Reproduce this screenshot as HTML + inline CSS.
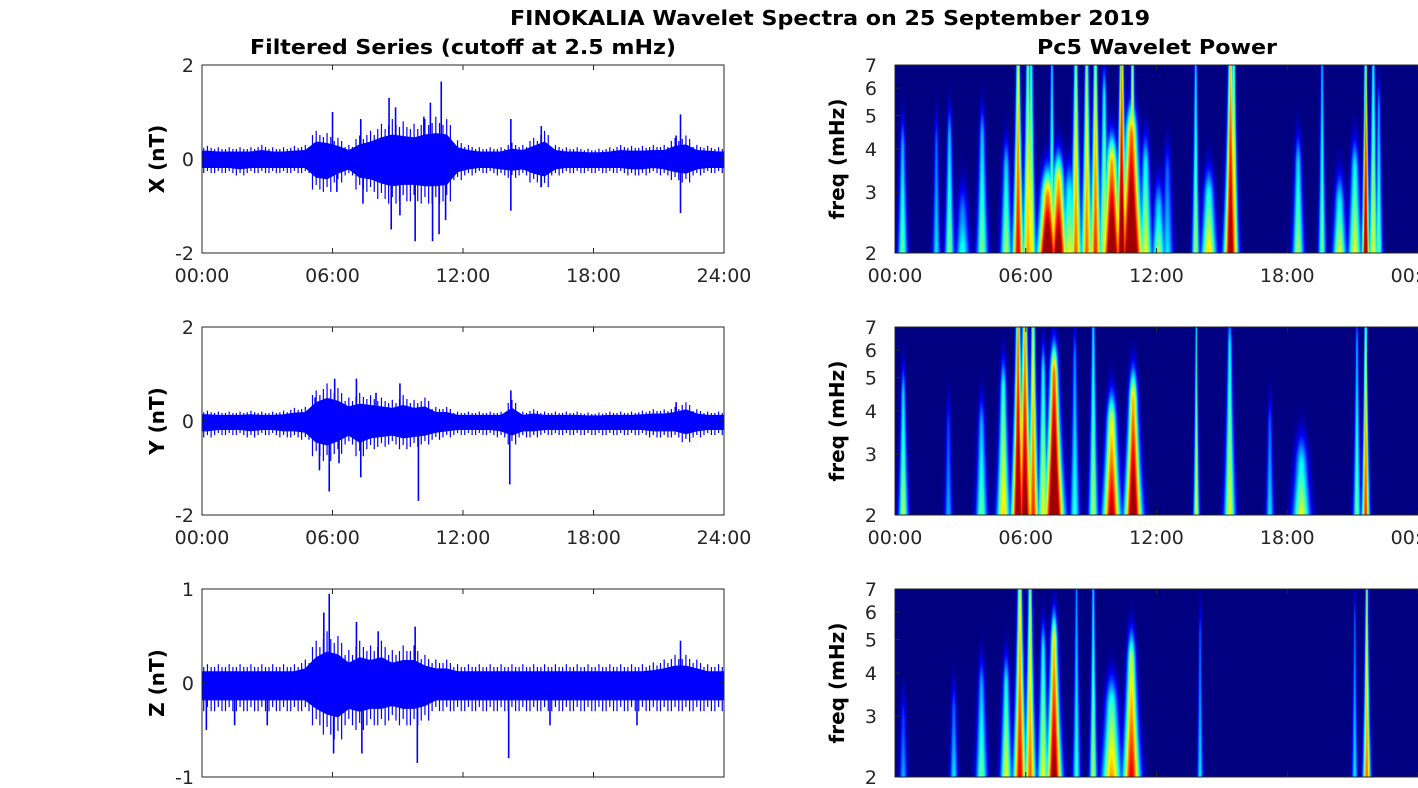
<!DOCTYPE html>
<html><head><meta charset="utf-8"><style>
html,body{margin:0;padding:0;background:#fff;}
#wrap{position:relative;width:1418px;height:788px;overflow:hidden;font-family:"DejaVu Sans","Liberation Sans",sans-serif;}
canvas{position:absolute;}
svg{position:absolute;left:0;top:0;}
</style></head><body>
<div id="wrap">
<canvas id="c0" width="523" height="188" style="left:895px;top:65px"></canvas>
<canvas id="c1" width="523" height="188" style="left:895px;top:327px"></canvas>
<canvas id="c2" width="523" height="188" style="left:895px;top:589px"></canvas>
<svg id="svg" width="1418" height="788" xmlns="http://www.w3.org/2000/svg">
<text x="830" y="25" text-anchor="middle" font-weight="bold" font-size="20" textLength="640" lengthAdjust="spacingAndGlyphs">FINOKALIA Wavelet Spectra on 25 September 2019</text>
<text x="463" y="54" text-anchor="middle" font-weight="bold" font-size="20" textLength="426" lengthAdjust="spacingAndGlyphs">Filtered Series (cutoff at 2.5 mHz)</text>
<text x="1157" y="54" text-anchor="middle" font-weight="bold" font-size="20" textLength="240" lengthAdjust="spacingAndGlyphs">Pc5 Wavelet Power</text>
</svg>
</div>
<script>
// ---- time series data (48 bins of 30 min, envelope of dense signal) ----
const binHours = Array.from({length:48},(_,i)=>i*0.5+0.25);
const xUpper=[.28,.25,.25,.25,.25,.3,.25,.25,.28,.3,.6,.55,.45,.3,.5,.6,.75,.85,.8,.75,.85,.9,.85,.4,.3,.25,.25,.25,.35,.3,.45,.6,.3,.25,.25,.22,.22,.25,.3,.28,.28,.3,.3,.45,.5,.3,.28,.25];
const xLower=[-.3,-.3,-.3,-.35,-.3,-.3,-.3,-.3,-.3,-.3,-.65,-.7,-.5,-.35,-.65,-.7,-.85,-.95,-.9,-.9,-.95,-.95,-.9,-.45,-.35,-.3,-.3,-.35,-.4,-.35,-.5,-.6,-.35,-.3,-.3,-.3,-.3,-.3,-.3,-.35,-.35,-.3,-.35,-.45,-.5,-.35,-.3,-.3];
const xSpikeT=[6.0,6.2,7.3,7.4,8.6,8.7,8.9,9.1,9.8,10.2,10.5,10.6,11.0,11.2,10.9,14.2,14.2,15.6,15.6,22.0,22.0,21.8];
const xSpikeV=[1.0,-0.7,0.85,-0.95,1.3,-1.5,1.1,-1.2,-1.75,0.9,1.2,-1.75,1.65,-1.3,-1.6,0.85,-1.1,0.7,-0.6,0.95,-1.15,0.5];
const yUpper=[.22,.2,.2,.2,.22,.2,.2,.22,.28,.3,.65,.8,.7,.5,.6,.55,.5,.45,.55,.45,.5,.3,.3,.2,.2,.2,.2,.2,.45,.2,.25,.2,.2,.2,.2,.18,.18,.2,.2,.2,.22,.25,.25,.3,.4,.25,.2,.2];
const yLower=[-.35,-.3,-.3,-.3,-.35,-.3,-.3,-.35,-.35,-.4,-.75,-.85,-.7,-.5,-.75,-.6,-.55,-.5,-.6,-.55,-.5,-.4,-.35,-.3,-.3,-.3,-.3,-.35,-.5,-.35,-.35,-.3,-.3,-.3,-.3,-.3,-.3,-.3,-.3,-.3,-.3,-.35,-.35,-.35,-.45,-.35,-.3,-.3];
const ySpikeT=[5.4,5.85,6.3,6.1,7.3,7.1,8.0,9.1,9.95,14.15,14.2,21.8,5.2];
const ySpikeV=[-1.05,-1.5,-0.9,0.9,-1.2,0.9,0.6,0.8,-1.7,-1.35,0.65,0.4,0.5];
const zUpper=[.2,.2,.2,.2,.2,.2,.2,.2,.2,.25,.45,.55,.5,.35,.45,.4,.45,.35,.4,.4,.3,.25,.25,.2,.2,.2,.2,.2,.2,.2,.2,.2,.2,.2,.2,.2,.2,.2,.2,.2,.2,.22,.25,.3,.3,.25,.2,.2];
const zLower=[-.3,-.3,-.3,-.3,-.3,-.3,-.3,-.3,-.3,-.3,-.45,-.55,-.6,-.45,-.5,-.45,-.45,-.4,-.45,-.45,-.4,-.3,-.3,-.3,-.3,-.3,-.3,-.3,-.3,-.3,-.3,-.3,-.3,-.3,-.3,-.3,-.3,-.3,-.3,-.3,-.3,-.3,-.3,-.3,-.3,-.3,-.3,-.3];
const zSpikeT=[5.6,5.85,6.05,7.1,7.35,8.1,9.8,9.9,14.1,22.0,0.2,1.5,3.0,16.0,20.0];
const zSpikeV=[.75,.95,-.75,.65,-.75,.55,.6,-.85,-.8,.45,-.5,-.45,-.45,-.45,-.45];
const tsRanges=[2,2,1];
const tsLabels=['X (nT)','Y (nT)','Z (nT)'];
// ---- wavelet events: time (h), top freq (mHz), peak power (0..1), width (h) ----
const xEvT=[0.35,1.9,2.5,3.1,4.0,5.1,5.65,6.1,6.25,7.0,7.5,7.2,8.0,8.3,8.8,9.2,9.6,9.95,10.4,10.85,10.9,11.5,12.1,12.5,13.8,14.4,15.4,15.55,18.5,19.6,20.4,21.1,21.6,21.95,22.2];
const xEvF=[3.9,4.0,4.2,2.5,4.2,3.4,7.5,7.5,7.5,2.8,3.1,7.5,2.9,7.5,7.5,7.5,5.5,3.5,7.5,4.3,7.5,3.5,2.6,3.3,7.5,2.8,7.5,7.5,3.5,7.5,2.7,3.4,7.5,7.5,5.0];
const xEvP=[.4,.3,.42,.35,.42,.45,.75,.6,.55,1.0,.9,.45,.5,.65,.65,.7,.5,.95,.9,1.0,.65,.5,.45,.3,.45,.55,.85,.6,.45,.4,.5,.5,.85,.5,.4];
const xEvW=[.25,.2,.25,.35,.3,.3,.3,.3,.25,.5,.45,.2,.45,.3,.3,.3,.3,.5,.3,.6,.25,.35,.35,.3,.2,.4,.35,.25,.3,.2,.35,.35,.2,.25,.2];
const yEvT=[0.38,2.45,3.97,4.97,5.65,5.96,6.34,6.8,7.3,8.25,9.1,9.94,10.93,13.83,15.36,17.2,18.65,21.2,21.6];
const yEvF=[4.3,3.5,3.5,4.5,7.5,7.5,7.5,5.0,5.0,5.5,7.5,3.6,4.2,7.5,6.0,3.5,2.7,6.0,7.5];
const yEvP=[.45,.25,.4,.55,.9,.85,.7,.5,1.0,.35,.45,.8,.9,.5,.5,.3,.5,.4,.7];
const yEvW=[.25,.2,.3,.35,.35,.4,.3,.3,.5,.25,.25,.45,.45,.15,.3,.2,.45,.2,.2];
const zEvT=[0.38,2.7,3.97,5.1,5.73,6.2,6.8,7.3,8.33,9.1,9.94,10.85,14.0,21.1,21.65];
const zEvF=[2.8,3.0,3.5,3.6,7.5,7.5,4.5,4.8,7.5,7.5,3.1,4.2,5.0,5.5,7.5];
const zEvP=[.25,.3,.4,.5,.75,.65,.5,.85,.35,.45,.6,.75,.3,.3,.65];
const zEvW=[.2,.2,.3,.3,.35,.3,.3,.4,.2,.2,.5,.45,.15,.15,.2];
const freqTicks=[2,3,4,5,6,7];
const timeTicks=[0,6,12,18,24];
const timeTickLabels=['00:00','06:00','12:00','18:00','24:00'];

const NS='http://www.w3.org/2000/svg';
const svg=document.getElementById('svg');
const LX0=202,LX1=724,RX0=895,RX1=1418,ROWH=188;
const rowTops=[65,327,589];
const CORE=0.6;
function xL(t){return LX0+t/24*(LX1-LX0);}
function xR(t){return RX0+t/24*(RX1-RX0);}
function yTS(v,r){const R=tsRanges[r];return rowTops[r]+(R-v)/(2*R)*ROWH;}
function yF(f,r){return rowTops[r]+ROWH-ROWH*Math.log(f/2)/Math.log(3.5);}
function mk(tag,attrs,txt){const e=document.createElementNS(NS,tag);for(const k in attrs)e.setAttribute(k,attrs[k]);if(txt!==undefined)e.textContent=txt;svg.appendChild(e);return e;}

const uppers=[xUpper,yUpper,zUpper],lowers=[xLower,yLower,zLower];
const spT=[xSpikeT,ySpikeT,zSpikeT],spV=[xSpikeV,ySpikeV,zSpikeV];
const names=['x','y','z'];
for(let r=0;r<3;r++){
  const top=rowTops[r],R=tsRanges[r];
  const U=uppers[r],Lo=lowers[r];
  let pts=[[xL(0),yTS(U[0]*CORE,r)]];
  binHours.forEach((t,i)=>pts.push([xL(t),yTS(U[i]*CORE,r)]));
  pts.push([xL(24),yTS(U[47]*CORE,r)]);
  pts.push([xL(24),yTS(Lo[47]*CORE,r)]);
  for(let i=47;i>=0;i--)pts.push([xL(binHours[i]),yTS(Lo[i]*CORE,r)]);
  pts.push([xL(0),yTS(Lo[0]*CORE,r)]);
  const band=mk('polygon',{points:pts.map(p=>p.join(',')).join(' '),fill:'#0000ff',stroke:'#0000ff','stroke-width':1});
  
  
  binHours.forEach((t,i)=>{
    [-0.17,0,0.17].forEach(dt=>{
      const w=mk('line',{x1:xL(t+dt),x2:xL(t+dt),y1:yTS(U[i]*(dt===0?1:0.85),r),y2:yTS(Lo[i]*(dt===0?0.85:1),r),stroke:'#0000ff','stroke-width':1.2});
      
      
    });
  });
  spT[r].forEach((t,i)=>{
    const l=mk('line',{x1:xL(t),x2:xL(t),y1:yTS(0,r),y2:yTS(spV[r][i],r),stroke:'#0000ff','stroke-width':1.6});
    
    
  });
  const box=mk('rect',{x:LX0,y:top,width:LX1-LX0,height:ROWH,fill:'none',stroke:'#262626','stroke-width':1});
  
  
  [R,0,-R].forEach(v=>{
    mk('line',{x1:LX0,x2:LX0+5,y1:yTS(v,r),y2:yTS(v,r),stroke:'#262626'});
    mk('line',{x1:LX1,x2:LX1-5,y1:yTS(v,r),y2:yTS(v,r),stroke:'#262626'});
    const tl=mk('text',{x:194,y:yTS(v,r)+7,'text-anchor':'end','font-size':19,fill:'#262626'},String(v));
    
    
  });
  timeTicks.forEach((t,i)=>{
    mk('line',{x1:xL(t),x2:xL(t),y1:top,y2:top+5,stroke:'#262626'});
    mk('line',{x1:xL(t),x2:xL(t),y1:top+ROWH,y2:top+ROWH-5,stroke:'#262626'});
    if(r<2){
      const tl=mk('text',{x:xL(t),y:top+ROWH+29,'text-anchor':'middle','font-size':19,fill:'#262626'},timeTickLabels[i]);
      
      
      const tr=mk('text',{x:xR(t),y:top+ROWH+29,'text-anchor':'middle','font-size':19,fill:'#262626'},timeTickLabels[i]==='24:00'?'00:00':timeTickLabels[i]);
      
      
    }
  });
  const yl=mk('text',{x:0,y:0,'text-anchor':'middle','font-size':20,'font-weight':'bold',fill:'#000',transform:`translate(164,${top+ROWH/2}) rotate(-90)`},tsLabels[r]);
  
  
  const rb=mk('rect',{x:RX0,y:top,width:RX1-RX0+2,height:ROWH,fill:'none',stroke:'#262626','stroke-width':1});
  
  
  freqTicks.forEach(f=>{
    mk('line',{x1:RX0,x2:RX0+5,y1:yF(f,r),y2:yF(f,r),stroke:'#262626'});
    const tl=mk('text',{x:877,y:yF(f,r)+7,'text-anchor':'end','font-size':19,fill:'#262626'},String(f));
    
    
  });
  timeTicks.forEach(t=>{
    mk('line',{x1:xR(t),x2:xR(t),y1:top,y2:top+5,stroke:'#262626'});
    mk('line',{x1:xR(t),x2:xR(t),y1:top+ROWH,y2:top+ROWH-5,stroke:'#262626'});
  });
  const fl=mk('text',{x:0,y:0,'text-anchor':'middle','font-size':20,'font-weight':'bold',fill:'#000',transform:`translate(844,${top+ROWH/2}) rotate(-90)`},'freq (mHz)');
  
  
}

// ---- heatmaps ----
function jet(v){const c=x=>Math.max(0,Math.min(1,x));return [c(1.5-Math.abs(4*v-3))*255,c(1.5-Math.abs(4*v-2))*255,c(1.5-Math.abs(4*v-1))*255];}
const evs=[[xEvT,xEvF,xEvP,xEvW],[yEvT,yEvF,yEvP,yEvW],[zEvT,zEvF,zEvP,zEvW]];
for(let r=0;r<3;r++){
  const cv=document.getElementById('c'+r),ctx=cv.getContext('2d');
  const W=cv.width,H=cv.height,img=ctx.createImageData(W,H);
  const [T,F,P,Wd]=evs[r];
  for(let py=0;py<H;py++){
    const f=2*Math.pow(3.5,(H-py-0.5)/H);
    const wf=Math.pow(2/f,0.9);
    for(let px=0;px<W;px++){
      const t=(px+0.5)/W*24;
      let m=0;
      for(let k=0;k<T.length;k++){
        const s=Wd[k]*wf*0.85;const d=(t-T[k])/s;
        if(Math.abs(d)>3)continue;
        let v=P[k]*Math.exp(-d*d);
        const lf=Math.log(f/2)/Math.log(F[k]/2);
        v*=1-0.35*Math.min(1,lf);
        if(f>F[k]){const q=(Math.log(f)-Math.log(F[k]))/0.22;v*=Math.exp(-q*q);}
        if(v>m)m=v;
      }
      m=Math.min(1,m*1.25);
      const col=jet(m*0.97);const i=(py*W+px)*4;
      img.data[i]=col[0];img.data[i+1]=col[1];img.data[i+2]=col[2];img.data[i+3]=255;
    }
  }
  ctx.putImageData(img,0,0);
}
</script>
</body></html>
